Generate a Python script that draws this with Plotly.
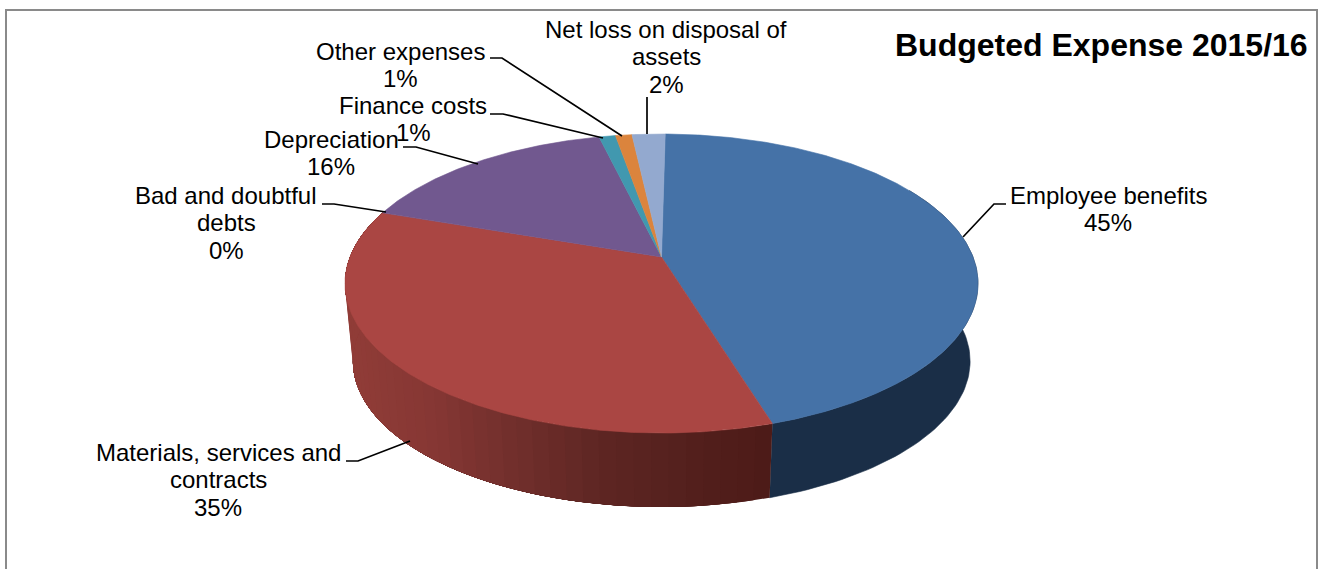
import numpy as np
import plotly.graph_objects as go

# Budget shares, in pie order starting from twelve o'clock and running clockwise
categories = ["Employee benefits", "Materials, services and contracts", "Bad and doubtful debts",
              "Depreciation", "Finance costs", "Other expenses", "Net loss on disposal of assets"]
values = [45, 35, 0, 16, 1, 1, 2]
colors = ["#4572A7", "#AA4643", "#89A54E", "#71588F", "#4198AF", "#DB843D", "#93A9CF"]
title = "Budgeted Expense 2015/16"

# Wrapped category lines for the data labels
label_lines = [["Employee benefits"], ["Materials, services and", "contracts"], ["Bad and doubtful", "debts"],
               ["Depreciation"], ["Finance costs"], ["Other expenses"], ["Net loss on disposal of", "assets"]]
label_x = [1108, 218, 226, 331, 413, 400, 666]
label_y = [195, 452, 195, 139, 105, 51, 29]
LINE_STEP = 27.8
LABEL_SIZE = 24
leaders = [
    [(963, 237), (994, 204), (1006, 204)],
    [(410, 441), (358, 461), (346, 461)],
    [(386, 212), (334, 204), (322, 204)],
    [(478, 164), (416, 147), (403, 147)],
    [(603, 138), (503, 114), (490, 114)],
    [(622, 136), (502, 58), (490, 58)],
    [(647, 134), (647, 97)],
]

# Perspective model of the disc: unit circle -> page pixels
CX, APEX_Y, K, A, C = 661.5, 257.0, 0.1773, -99.25, 311.5
TOP_MID_Y, DROP_MID_Y, DROP_SCALE = 283.5, 361.2, 0.975
FIRST_SLICE_DEG = 0.8


def top_face(theta_deg):
    t = np.radians(theta_deg)
    x, y = np.sin(t), np.cos(t)
    d = 1 + K * y
    return CX + C * x / d, (A * y + APEX_Y) / d


def bottom_face(theta_deg):
    px, py = top_face(theta_deg)
    return CX + DROP_SCALE * (px - CX), DROP_MID_Y + DROP_SCALE * (py - TOP_MID_Y)


def polygon(xs, ys, color, edge=0.6):
    return go.Scatter(x=xs, y=ys, mode="lines", fill="toself", fillcolor=color,
                      line=dict(color=color, width=edge), hoverinfo="skip", showlegend=False)


def mix(stops, x):
    xp = [s[0] for s in stops]
    rgb = [np.interp(x, xp, [s[1][i] for s in stops]) for i in range(3)]
    return "rgb(%d,%d,%d)" % tuple(int(round(v)) for v in rgb)


edges = np.concatenate([[0], np.cumsum(values)]) / sum(values) * 360.0 + FIRST_SLICE_DEG
fig = go.Figure()

# Rim of the blue slice: nearly flat dark tone
a0, a1 = edges[0], edges[1]
arc = np.linspace(max(a0, 60), a1, 80)
tx, ty = top_face(arc)
bx, by = bottom_face(arc)
fig.add_trace(polygon(np.r_[tx, bx[::-1]], np.r_[ty, by[::-1]], "#1A2E47"))

# Rim of the red slice: each strip runs to the slice end and is overpainted by the next one,
# so no gaps open up between neighbouring shades
shade = [(350, (144, 60, 55)), (430, (134, 55, 52)), (500, (116, 48, 45)),
         (600, (94, 38, 35)), (700, (82, 31, 28)), (770, (77, 27, 24))]
a0, a1 = edges[1], edges[2]
cuts = np.linspace(a0, a1, 48)
for s, e in zip(cuts[:-1], cuts[1:]):
    arc = np.linspace(s, a1, 60)
    tx, ty = top_face(arc)
    bx, by = bottom_face(arc)
    mx, _ = top_face((s + e) / 2)
    fig.add_trace(polygon(np.r_[tx, bx[::-1]], np.r_[ty, by[::-1]], mix(shade, mx), edge=0))

# Top faces of every non-empty slice
for i, color in enumerate(colors):
    if values[i] == 0:
        continue
    arc = np.linspace(edges[i], edges[i + 1], max(6, int((edges[i + 1] - edges[i]) * 2)))
    tx, ty = top_face(arc)
    fig.add_trace(polygon(np.r_[CX, tx, CX], np.r_[APEX_Y, ty, APEX_Y], color))

# Leader lines
for pts in leaders:
    fig.add_trace(go.Scatter(x=[p[0] for p in pts], y=[p[1] for p in pts], mode="lines",
                             line=dict(color="#000000", width=1.7), hoverinfo="skip", showlegend=False))

# Data labels, one annotation per text line for tight leading
annotations = []
for lines, value, lx, ly in zip(label_lines, values, label_x, label_y):
    for j, text in enumerate(lines + ["%d%%" % value]):
        annotations.append(dict(x=lx, y=ly + j * LINE_STEP, text=text, showarrow=False,
                                xanchor="center", yanchor="middle", xref="x", yref="y",
                                font=dict(family="Liberation Sans", size=LABEL_SIZE, color="#000000")))
annotations.append(dict(x=1101, y=45, text="<b>%s</b>" % title, showarrow=False, xanchor="center",
                        yanchor="middle", xref="x", yref="y",
                        font=dict(family="Liberation Sans", size=32, color="#000000")))

fig.update_layout(
    width=1320, height=569, margin=dict(l=0, r=0, t=0, b=0),
    paper_bgcolor="#FFFFFF", plot_bgcolor="#FFFFFF", showlegend=False,
    xaxis=dict(range=[0, 1320], visible=False, fixedrange=True),
    yaxis=dict(range=[569, 0], visible=False, fixedrange=True),
    annotations=annotations,
    shapes=[dict(type="rect", x0=6, y0=10, x1=1317, y1=580, xref="x", yref="y",
                 line=dict(color="#8A8A8A", width=2), layer="below")],
)

fig.write_html("out.html", config=dict(displayModeBar=False))
